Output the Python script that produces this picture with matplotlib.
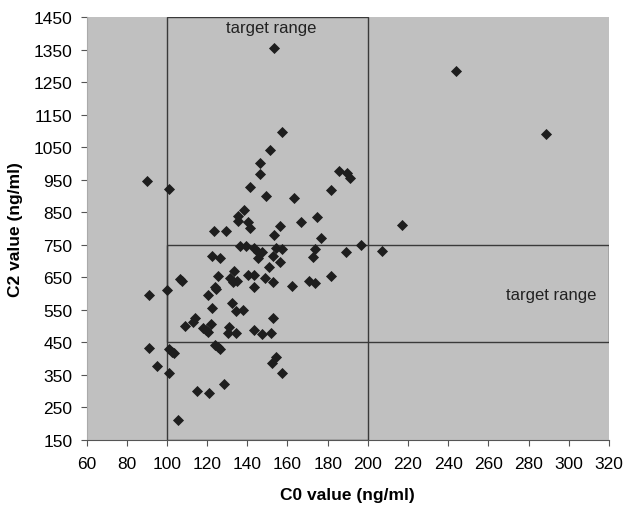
import matplotlib
matplotlib.use("Agg")
import matplotlib.pyplot as plt
from matplotlib.patches import Rectangle

plt.rcParams["font.family"] = ["Liberation Sans", "DejaVu Sans"]

# C0 (ng/ml) vs C2 (ng/ml)
c0 = [153.5, 243.7, 288.6, 90.3, 101.3, 151.5, 157.5, 146.3, 146.3, 141.5,
      149.3, 138.5, 135.5, 135.5, 140.4, 141.5, 123.6, 129.4, 153.5, 156.5,
      185.7, 189.7, 190.9, 181.5, 163.3, 174.8, 166.8, 176.6, 217.1, 196.6,
      173.8, 136.4, 139.5, 143.2, 145.2, 147.5, 145.2, 154.5, 157.5, 122.4,
      126.4, 152.8, 156.5, 150.6, 133.4, 125.4, 140.2, 143.5, 131.2, 134.9,
      132.9, 149.0, 152.6, 143.5, 106.6, 107.6, 100.0, 91.3, 124.0, 124.6,
      120.4, 132.2, 122.4, 134.5, 137.7, 152.8, 114.1, 112.9, 109.1, 122.1,
      118.2, 119.6, 120.7, 130.9, 130.2, 134.5, 143.5, 147.3, 151.8, 124.0,
      125.2, 126.2, 91.3, 101.1, 102.5, 103.3, 95.3, 101.3, 105.5, 114.9,
      121.2, 128.4, 154.3, 152.3, 157.5, 206.8, 188.9, 172.8, 181.5, 170.8,
      173.8, 162.4]
c2 = [1357, 1285, 1091, 945, 921, 1041, 1098, 1002, 969, 929,
      899, 858, 837, 822, 819, 801, 791, 791, 780, 807,
      976, 971, 955, 918, 893, 834, 821, 772, 812, 750,
      738, 747, 745, 739, 729, 727, 708, 739, 737, 716,
      709, 714, 697, 682, 670, 653, 657, 657, 647, 639,
      634, 647, 634, 619, 645, 640, 612, 595, 621, 614,
      595, 572, 555, 545, 548, 524, 524, 513, 499, 506,
      495, 488, 481, 497, 478, 477, 488, 475, 477, 442,
      434, 428, 433, 429, 421, 416, 378, 355, 211, 300,
      293, 320, 405, 386, 354, 731, 727, 713, 655, 640,
      631, 622]

# target ranges
c0_range = (100, 200)
c2_range = (450, 750)

xticks = list(range(60, 321, 20))
yticks = list(range(150, 1451, 100))

fig = plt.figure(figsize=(6.25, 5.06), dpi=100)
ax = fig.add_axes([0.1384, 0.129, 0.836, 0.8348])
ax.set_facecolor("#c0c0c0")

ax.scatter(c0, c2, marker="D", s=32, color="#1e1e1e", zorder=3, linewidths=0)

# target range boxes
ax.add_patch(Rectangle((c0_range[0], 150), c0_range[1] - c0_range[0], 1300,
                       fill=False, edgecolor="#3a3a3a", lw=1.0, zorder=2))
ax.add_patch(Rectangle((c0_range[0], c2_range[0]), 320 - c0_range[0],
                       c2_range[1] - c2_range[0],
                       fill=False, edgecolor="#3a3a3a", lw=1.0, zorder=2))
ax.text(152, 1443, "target range", ha="center", va="top", fontsize=12, color="#222222")
ax.text(291, 597, "target range", ha="center", va="center", fontsize=12, color="#222222")

ax.set_xlim(60, 320)
ax.set_ylim(150, 1450)
ax.set_xticks(xticks)
ax.set_yticks(yticks)
ax.tick_params(axis="both", labelsize=12.5, direction="out", length=4,
               color="#555555", pad=8)
ax.tick_params(axis="y", pad=6)

for side in ["top", "right"]:
    ax.spines[side].set_visible(False)
ax.spines["left"].set_color("#aaaaaa")
ax.spines["bottom"].set_color("#555555")

ax.set_xlabel("C0 value (ng/ml)", fontsize=12.5, fontweight="bold", labelpad=11)
ax.set_ylabel("C2 value (ng/ml)", fontsize=12.5, fontweight="bold", labelpad=8)

fig.savefig("out.png", dpi=100)
